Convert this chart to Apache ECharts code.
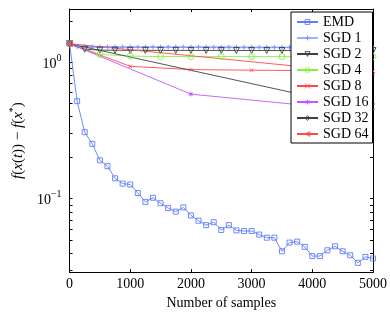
<!DOCTYPE html>
<html>
<head>
<meta charset="utf-8">
<script src="https://cdn.jsdelivr.net/npm/echarts@6/dist/echarts.min.js"></script>
<style>
html,body{margin:0;padding:0;background:#fff;}
#c{width:390px;height:315px;}
</style>
</head>
<body>
<div id="c"></div>
<script>
// ---- data ----
const emdSamples = [0,125,250,375,500,625,750,875,1000,1125,1250,1375,1500,1625,1750,1875,2000,2125,2250,2375,2500,2625,2750,2875,3000,3125,3250,3375,3500,3625,3750,3875,4000,4125,4250,4375,4500,4625,4750,4875,5000];
const emdValues = [1.364,0.518,0.307,0.252,0.191,0.173,0.141,0.129,0.127,0.110,0.0948,0.1016,0.0926,0.0854,0.0804,0.0863,0.0754,0.0690,0.0640,0.0673,0.0590,0.0640,0.0586,0.0580,0.0580,0.0546,0.0518,0.0518,0.0412,0.0477,0.0485,0.0444,0.0380,0.0380,0.0419,0.0448,0.0412,0.0385,0.0339,0.0375,0.0365];

const sgd1Samples = [0,125,250,375,500,625,750,875,1000,1125,1250,1375,1500,1625,1750,1875,2000,2125,2250,2375,2500,2625,2750,2875,3000,3125,3250,3375,3500,3625,3750,3875,4000,4125,4250,4375,4500,4625,4750,4875,5000];
const sgd1Values = [1.364,1.300,1.296,1.294,1.292,1.292,1.291,1.290,1.290,1.289,1.289,1.288,1.288,1.288,1.287,1.287,1.286,1.286,1.286,1.285,1.285,1.285,1.284,1.284,1.284,1.283,1.283,1.283,1.282,1.282,1.282,1.281,1.281,1.281,1.280,1.280,1.280,1.279,1.279,1.279,1.278];

const sgd2Samples = [0,250,500,750,1000,1250,1500,1750,2000,2250,2500,2750,3000,3250,3500,3750,4000,4250,4500,4750,5000];
const sgd2Values = [1.364,1.243,1.225,1.222,1.220,1.220,1.219,1.219,1.218,1.218,1.218,1.217,1.217,1.217,1.216,1.216,1.216,1.215,1.215,1.215,1.215];

const sgd4Samples = [0,500,1000,1500,2000,2500,3000,3500,4000,4500,5000];
const sgd4Values = [1.364,1.139,1.108,1.098,1.098,1.098,1.098,1.097,1.097,1.097,1.097];

const sgd8Samples = [0,1000,2000,3000,4000,5000];
const sgd8Values = [1.364,0.932,0.882,0.873,0.866,0.860];

const sgd16Samples = [0,2000,4000,6000];
const sgd16Values = [1.364,0.583,0.477,0.427];

const sgd32Samples = [0,4000,8000];
const sgd32Values = [1.364,0.556,0.350];

const sgd64Samples = [0,8000];
const sgd64Values = [1.364,0.606];

const yLabelTicks = [0.1,1];
const yMinorTicks = [0.03,0.04,0.05,0.06,0.07,0.08,0.09,0.1,0.2,0.3,0.4,0.5,0.6,0.7,0.8,0.9,1,2];

// ---- chart ----
const FONT = 'Liberation Serif';
const pair = (xs, ys) => xs.map((x, i) => [x, ys[i]]);

const PLUS = 'path://M0,5L10,5M5,0L5,10';
const CROSS = 'path://M0,0L10,10M10,0L0,10';
const STAR = 'path://M0,5L10,5M5,0L5,10M1.5,1.5L8.5,8.5M8.5,1.5L1.5,8.5';

function mk(name, xs, ys, color, symbol, size, rot, lw, lineColor) {
  return {
    name: name, type: 'line', data: pair(xs, ys),
    symbol: symbol, symbolSize: size, symbolRotate: rot || 0,
    showAllSymbol: true, clip: true, animation: false,
    lineStyle: { color: lineColor || color, width: lw || 0.9 },
    itemStyle: { color: 'rgba(255,255,255,0)', borderColor: color, borderWidth: 0.9 },
    emphasis: { disabled: true }
  };
}

const series = [
  mk('EMD', emdSamples, emdValues, '#5f7dff', 'rect', 5),
  mk('SGD 1', sgd1Samples, sgd1Values, '#6f8cff', PLUS, 5, 0, 1.8, '#9fb2ff'),
  mk('SGD 2', sgd2Samples, sgd2Values, '#404040', 'triangle', 6, 180),
  mk('SGD 4', sgd4Samples, sgd4Values, '#88ee44', 'circle', 6),
  mk('SGD 8', sgd8Samples, sgd8Values, '#ff4a4a', CROSS, 3.5),
  mk('SGD 16', sgd16Samples, sgd16Values, '#c257ff', STAR, 4.5),
  mk('SGD 32', sgd32Samples, sgd32Values, '#404040', 'diamond', 6),
  mk('SGD 64', sgd64Samples, sgd64Values, '#ff4a4a', 'triangle', 6, 90)
];

const supRich = {
  b: { fontFamily: FONT, fontSize: 14, color: '#000', lineHeight: 18, verticalAlign: 'bottom' },
  s: { fontFamily: FONT, fontSize: 10, color: '#000', lineHeight: 18, verticalAlign: 'top' }
};

const tickCommon = { show: true, inside: true, length: 3, lineStyle: { color: '#000', width: 1 } };
const lineCommon = { show: true, onZero: false, lineStyle: { color: '#000', width: 1 } };

const yBase = {
  type: 'log', logBase: 10, min: 0.029, max: 2.45,
  splitLine: { show: false }, minorTick: { show: false },
  axisLine: lineCommon,
  axisTick: Object.assign({}, tickCommon, { customValues: yMinorTicks })
};

const option = {
  animation: false,
  backgroundColor: '#fff',
  grid: { left: 45, right: 17, top: 9, bottom: 34, containLabel: false },
  legend: {
    orient: 'vertical', left: 291, top: 12,
    itemWidth: 21, itemHeight: 6, itemGap: 2,
    padding: [3, 4, 2, 5],
    backgroundColor: '#fff', borderColor: '#000', borderWidth: 1, borderRadius: 0,
    itemStyle: { color: 'rgba(255,255,255,0)', borderColor: 'inherit', borderWidth: 0.9 },
    textStyle: { fontFamily: FONT, fontSize: 14, color: '#000', lineHeight: 14 },
    data: ['EMD','SGD 1','SGD 2','SGD 4','SGD 8','SGD 16','SGD 32','SGD 64']
  },
  xAxis: [
    {
      type: 'value', min: 0, max: 5000, interval: 1000,
      axisLine: lineCommon, axisTick: tickCommon, splitLine: { show: false },
      axisLabel: { fontFamily: FONT, fontSize: 14, color: '#000', margin: 5,
        formatter: function (v) { return String(v); } },
      name: 'Number of samples', nameLocation: 'middle', nameGap: 17,
      nameTextStyle: { fontFamily: FONT, fontSize: 14, color: '#000' }
    },
    {
      type: 'value', position: 'top', min: 0, max: 5000, interval: 1000,
      axisLine: lineCommon, axisTick: tickCommon, splitLine: { show: false },
      axisLabel: { show: false }
    }
  ],
  yAxis: [
    Object.assign({}, yBase, {
      position: 'left',
      axisLabel: {
        show: true, margin: 8, customValues: yLabelTicks,
        formatter: function (v) {
          const e = Math.round(Math.log10(v));
          return '{b|10}{s|' + (e < 0 ? '\u2212' + (-e) : e) + '}';
        },
        rich: supRich
      },
      name: '{i|f}{n|(}{i|x}{n|(}{i|t}{n|)) \u2212 }{i|f}{n|(}{i|x}{s|*}{n|)}',
      nameLocation: 'middle', nameGap: 23,
      nameTextStyle: {
        rich: {
          i: { fontFamily: FONT, fontStyle: 'italic', fontSize: 15, color: '#000', lineHeight: 18, verticalAlign: 'bottom' },
          n: { fontFamily: FONT, fontSize: 15, color: '#000', lineHeight: 18, verticalAlign: 'bottom' },
          s: { fontFamily: FONT, fontSize: 10, color: '#000', lineHeight: 18, verticalAlign: 'top' }
        }
      }
    }),
    Object.assign({}, yBase, {
      position: 'right',
      axisLabel: { show: false }
    })
  ],
  series: series
};

const chart = echarts.init(document.getElementById('c'), null, { renderer: 'canvas' });
chart.setOption(option);
</script>
</body>
</html>
